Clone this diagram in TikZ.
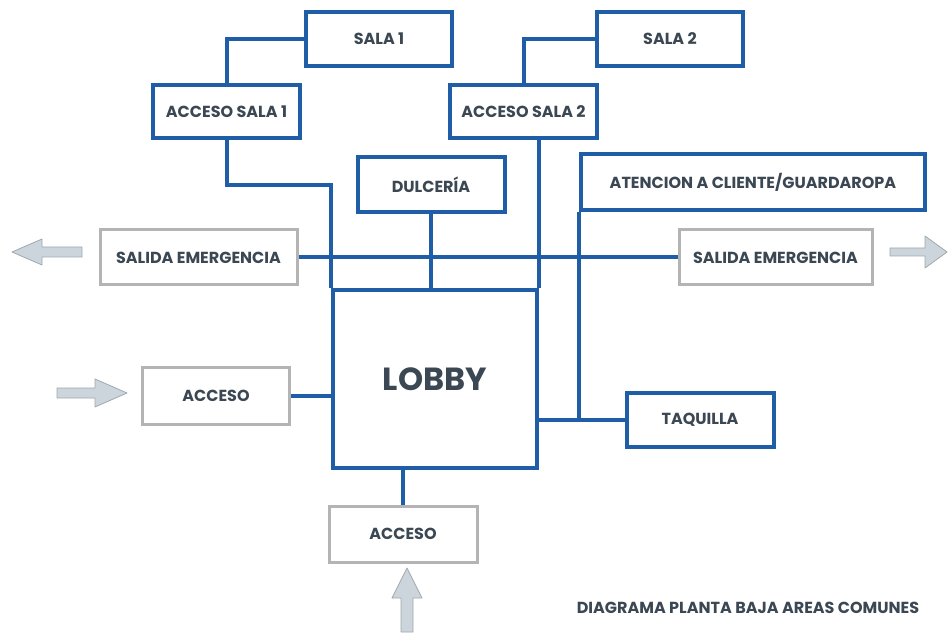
\documentclass[tikz,border=0pt]{standalone}
\usepackage{fontspec}
\setmainfont{Poppins}
\definecolor{lineblue}{HTML}{1F5DA6}
\definecolor{boxgrey}{HTML}{B4B4B4}
\definecolor{txt}{HTML}{3B4752}
\definecolor{arrfill}{HTML}{CCD4DC}
\definecolor{arrdraw}{HTML}{A0A8B0}
\tikzset{
  lab/.style={font=\bfseries\fontsize{16}{18}\selectfont, text=txt},
  bluebox/.style={draw=lineblue, line width=4pt, rectangle, inner sep=0pt, lab},
  greybox/.style={draw=boxgrey, line width=3pt, rectangle, inner sep=0pt, lab},
  conn/.style={draw=lineblue, line width=4pt},
  blockarrow/.style={fill=arrfill, draw=arrdraw, line width=0.8pt, line join=round}
}
\begin{document}
\begin{tikzpicture}[x=1pt,y=-1pt]
\useasboundingbox (0,0) rectangle (948,636);
\fill[white] (0,0) rectangle (948,636);

% boxes
\node[bluebox, minimum width=146pt, minimum height=54pt] (sala1) at (379,39) {SALA 1};
\node[bluebox, minimum width=146pt, minimum height=54pt] (sala2) at (670,39) {SALA 2};
\node[bluebox, minimum width=147pt, minimum height=53pt] (acc1) at (226.5,111.5) {ACCESO SALA 1};
\node[bluebox, minimum width=147pt, minimum height=53pt] (acc2) at (523.5,111.5) {ACCESO SALA 2};
\node[bluebox, minimum width=147pt, minimum height=55pt] (dulc) at (431,184.5) {DULCERÍA};
\node[bluebox, minimum width=344pt, minimum height=56pt] (aten) at (753,182) {ATENCION A CLIENTE/GUARDAROPA};
\node[greybox, minimum width=197pt, minimum height=55pt] (salL) at (198.5,257.5) {SALIDA EMERGENCIA};
\node[greybox, minimum width=193pt, minimum height=55pt] (salR) at (775.5,257.5) {SALIDA EMERGENCIA};
\node[bluebox, minimum width=204pt, minimum height=178pt, font=\bfseries\fontsize{32}{34}\selectfont] (lobby) at (435,379) {LOBBY};
\node[greybox, minimum width=147pt, minimum height=57pt] (accL) at (216,396) {ACCESO};
\node[bluebox, minimum width=147pt, minimum height=54pt] (taq) at (700,420) {TAQUILLA};
\node[greybox, minimum width=148pt, minimum height=56pt] (accB) at (403,534) {ACCESO};

\node[lab] (cap) at (748,608) {DIAGRAMA PLANTA BAJA AREAS COMUNES};

% connectors
\draw[conn] (sala1.west) -| (acc1.north);
\draw[conn] (sala2.west) -| (acc2.north);
\draw[conn] (acc1.south) -- ++(0,45) -| (lobby.north west);
\draw[conn] (lobby.north east) -- (lobby.north east |- acc2.south);
\draw[conn] (dulc.south) -- (dulc.south |- lobby.north);
\draw[conn] (salL.east) -- (salR.west);
\draw[conn] (aten.south west) -- (aten.south west |- taq.west);
\draw[conn] (lobby.east |- taq.west) -- (taq.west);
\draw[conn] (accL.east) -- (accL.east -| lobby.west);
\draw[conn] (accB.north) -- (accB.north |- lobby.south);

% block arrows
\draw[blockarrow] (12,252) -- (42,239) -- (42,247) -- (82,247) -- (82,257) -- (42,257) -- (42,265) -- cycle;
\draw[blockarrow] (947,252) -- (925,236) -- (925,248) -- (890,248) -- (890,256) -- (925,256) -- (925,268) -- cycle;
\draw[blockarrow] (127,393) -- (95,379) -- (95,388) -- (57,388) -- (57,398) -- (95,398) -- (95,407) -- cycle;
\draw[blockarrow] (407,568) -- (392,598) -- (401,598) -- (401,632) -- (413,632) -- (413,598) -- (422,598) -- cycle;
\end{tikzpicture}
\end{document}
